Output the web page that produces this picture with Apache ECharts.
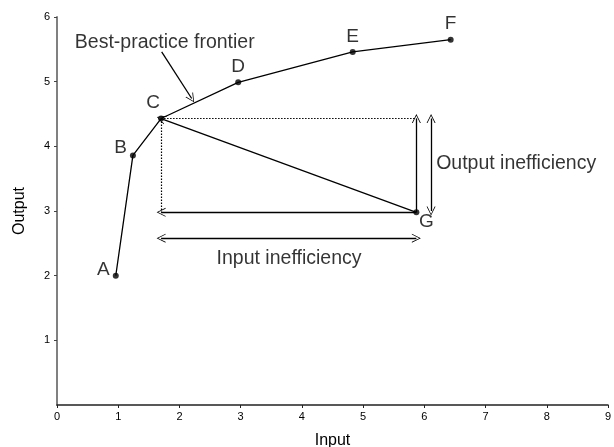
<!DOCTYPE html>
<html lang="en">
<head>
    <meta charset="UTF-8">
    <script src="https://cdn.jsdelivr.net/npm/echarts@6/dist/echarts.min.js"></script>
    <style>
        body {margin:0; background:#fff;}
        #chart {width:614px; height:447px;}
    </style>
    <title>Best-practice frontier</title>
    <script>
        // points on the chart
        const pointNames = ['A', 'B', 'C', 'D', 'E', 'F', 'G'];
        const pointX = [0.96, 1.24, 1.70, 2.96, 4.83, 6.43, 5.87];
        const pointY = [2.00, 3.86, 4.43, 4.99, 5.46, 5.65, 2.98];
        const frontier = ['A', 'B', 'C', 'D', 'E', 'F'];
        // where each letter sits next to its point
        const labelPos = ['left', 'left', 'top', 'top', 'top', 'top', 'bottom'];

        const xTicks = [0, 1, 2, 3, 4, 5, 6, 7, 8, 9];
        const yTicks = [0, 1, 2, 3, 4, 5, 6];

        // text notes: [x, y, text]
        const notes = [
            [1.76, 5.61, 'Best-practice frontier'],
            [3.79, 2.26, 'Input inefficiency'],
            [7.5, 3.74, 'Output inefficiency']
        ];

        window.onload = function () {
            const chart = echarts.init(document.getElementById('chart'));
            const pt = n => { let i = pointNames.indexOf(n); return [pointX[i], pointY[i]]; };
            const C = pt('C'), G = pt('G');

            // open arrow head, tip pointing up
            const head = 'path://M0,10 L5,0 L10,10 L9,10 L5,1.8 L1,10 Z';

            const solid = {color:'#000', width:1.3, type:'solid', opacity:1};
            const dotted = {color:'#000', width:1.2, type:[1.5, 1.5], opacity:1};

            chart.setOption({
                animation: false,
                textStyle: {fontFamily: 'Liberation Sans, Arial, sans-serif'},
                grid: {left:57, right:6, top:17, bottom:42, outerBoundsMode:'none', containLabel:false},
                xAxis: {
                    type:'value', min:xTicks[0], max:xTicks[xTicks.length-1], interval:1,
                    name:'Input', nameLocation:'middle', nameGap:28,
                    nameTextStyle:{fontSize:16, color:'#000'},
                    axisLine:{lineStyle:{color:'#222', width:1.5}},
                    axisTick:{length:3, lineStyle:{color:'#222'}},
                    axisLabel:{fontSize:11, color:'#000', margin:6},
                    splitLine:{show:false}
                },
                yAxis: {
                    type:'value', min:yTicks[0], max:yTicks[yTicks.length-1], interval:1,
                    name:'Output', nameLocation:'middle', nameGap:29, nameRotate:90,
                    nameTextStyle:{fontSize:16, color:'#000'},
                    axisLine:{show:true, lineStyle:{color:'#808080', width:2}},
                    axisTick:{show:true, length:3, lineStyle:{color:'#444'}},
                    axisLabel:{fontSize:11, color:'#000', margin:7, showMinLabel:false},
                    splitLine:{show:false}
                },
                series: [
                    {
                        type:'line', data:frontier.map(pt), symbol:'none',
                        lineStyle:solid, z:3
                    },
                    {
                        type:'lines', coordinateSystem:'cartesian2d',
                        lineStyle:dotted, symbol:'none',
                        data:[
                            {coords:[C, [G[0], C[1]]]},
                            {coords:[C, [C[0], G[1]]]}
                        ]
                    },
                    {
                        type:'lines', coordinateSystem:'cartesian2d',
                        lineStyle:solid, symbol:['none', head], symbolSize:[0, 9],
                        data:[
                            {coords:[G, C]},
                            {coords:[G, [C[0], G[1]]]},
                            {coords:[G, [G[0], C[1]]]},
                            {coords:[[1.71, 5.46], [2.20, 4.74]]}
                        ]
                    },
                    {
                        type:'lines', coordinateSystem:'cartesian2d',
                        lineStyle:solid, symbol:[head, head], symbolSize:9,
                        data:[
                            {coords:[[6.11, C[1]], [6.11, 3.0]]},
                            {coords:[[C[0], 2.58], [G[0], 2.58]]}
                        ]
                    },
                    {
                        type:'scatter', symbolSize:6, itemStyle:{color:'#000'},
                        data:pointNames.map((n, i) => ({
                            value:[pointX[i], pointY[i]],
                            label:{show:true, formatter:n, position:labelPos[i], distance:3,
                                   fontSize:19, color:'#000',
                                   offset: n === 'G' ? [10, -6] : n === 'C' ? [-8, 0] : n === 'B' ? [0, -8] : n === 'A' ? [0, -6] : [0, 0]}
                        })),
                        z:5
                    },
                    {
                        type:'scatter', symbolSize:0, silent:true,
                        data:notes.map(d => ({
                            value:[d[0], d[1]],
                            label:{show:true, formatter:d[2], position:'inside', fontSize:19.5, color:'#000'}
                        }))
                    }
                ]
            });
        };
    </script>
</head>
<body>
    <div id="chart"></div>
</body>
</html>
